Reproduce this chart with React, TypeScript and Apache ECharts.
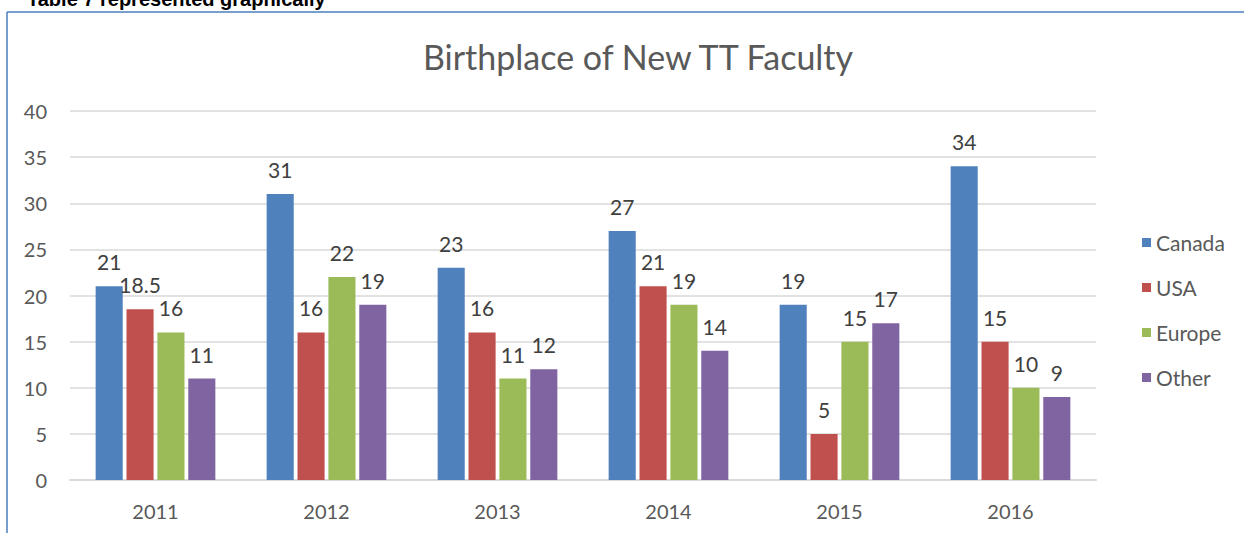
import React, { useEffect, useRef } from "react";
import * as echarts from "echarts";

const categories = ["2011", "2012", "2013", "2014", "2015", "2016"];
const canada = [21, 31, 23, 27, 19, 34];
const usa = [18.5, 16, 16, 21, 5, 15];
const europe = [16, 22, 11, 19, 15, 10];
const other = [11, 19, 12, 14, 17, 9];
const seriesNames = ["Canada", "USA", "Europe", "Other"];
const seriesColors = ["#4F81BD", "#C0504D", "#9BBB59", "#8064A2"];

const FONT = "Lato";

export default function App() {
  const ref = useRef<HTMLDivElement>(null);
  useEffect(() => {
    document.body.style.margin = "0";
    const chart = echarts.init(ref.current!, undefined, { renderer: "svg" });
    const data = [canada, usa, europe, other];
    chart.setOption({
      animation: false,
      textStyle: { fontFamily: FONT },
      title: {
        text: "Birthplace of New TT Faculty",
        left: 633,
        textAlign: "center",
        top: 34,
        textStyle: { fontFamily: FONT, fontSize: 34, fontWeight: "normal", color: "#595959" },
      },
      legend: {
        orient: "vertical",
        left: 1137,
        top: 227,
        itemGap: 24,
        itemWidth: 9,
        itemHeight: 9,
        icon: "rect",
        data: seriesNames,
        textStyle: { fontFamily: FONT, fontSize: 21, color: "#595959" },
      },
      grid: { left: 70, right: 1244 - 1096, top: 111, bottom: 53, containLabel: false },
      xAxis: {
        type: "category",
        data: categories,
        axisTick: { show: false },
        axisLine: { lineStyle: { color: "#D9D9D9", width: 2 } },
        axisLabel: { fontFamily: FONT, fontSize: 20, color: "#595959", margin: 21 },
      },
      yAxis: {
        type: "value",
        min: 0,
        max: 40,
        interval: 5,
        axisLine: { show: false },
        axisTick: { show: false },
        splitLine: { lineStyle: { color: "#D9D9D9", width: 1.5 } },
        axisLabel: { fontFamily: FONT, fontSize: 20, color: "#595959", margin: 23 },
      },
      series: seriesNames.map((name, i) => ({
        name,
        type: "bar",
        data: data[i],
        barGap: "14%",
        barCategoryGap: "30%",
        itemStyle: { color: seriesColors[i] },
        label: {
          show: true,
          position: "top",
          distance: 14,
          fontFamily: FONT,
          fontSize: 21,
          color: "#404040",
        },
      })),
      graphic: [
        {
          type: "text",
          left: 27,
          top: -11,
          style: {
            text: "Table 7 represented graphically",
            fontFamily: "Liberation Sans",
            fontWeight: "bold",
            fontSize: 20,
            fill: "#000000",
          },
        },
        {
          type: "line",
          shape: { x1: 7, y1: 12, x2: 1244, y2: 12 },
          style: { stroke: "#4A7EBB", lineWidth: 1.5 },
        },
        {
          type: "line",
          shape: { x1: 7, y1: 12, x2: 7, y2: 533 },
          style: { stroke: "#4A7EBB", lineWidth: 1.5 },
        },
      ],
    });
    return () => chart.dispose();
  }, []);
  return <div ref={ref} style={{ width: 1244, height: 533 }} />;
}
